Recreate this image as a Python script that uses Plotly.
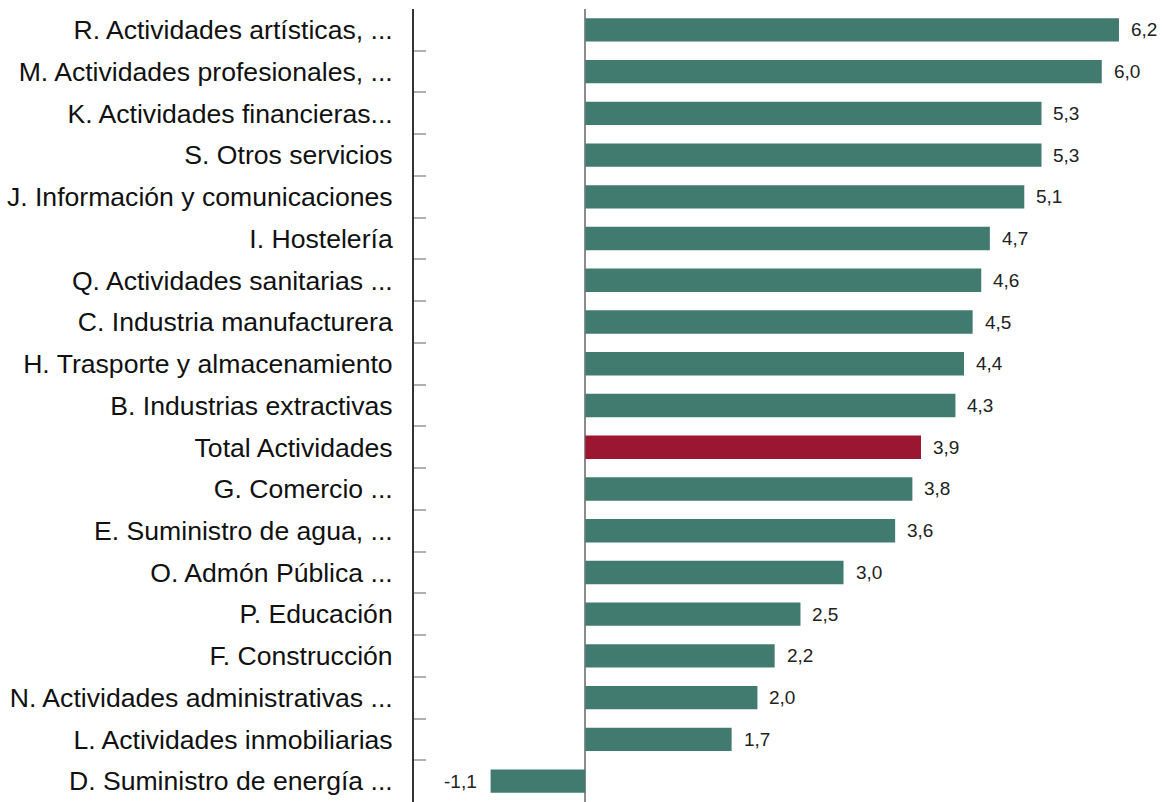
import plotly.graph_objects as go

categories = [
    "R. Actividades artísticas, ...",
    "M. Actividades profesionales, ...",
    "K. Actividades financieras...",
    "S. Otros servicios",
    "J. Información y comunicaciones",
    "I. Hostelería",
    "Q. Actividades sanitarias ...",
    "C. Industria manufacturera",
    "H. Trasporte y almacenamiento",
    "B. Industrias extractivas",
    "Total Actividades",
    "G. Comercio ...",
    "E. Suministro de agua, ...",
    "O. Admón Pública ...",
    "P. Educación",
    "F. Construcción",
    "N. Actividades administrativas ...",
    "L. Actividades inmobiliarias",
    "D. Suministro de energía ...",
]
values = [6.2, 6.0, 5.3, 5.3, 5.1, 4.7, 4.6, 4.5, 4.4, 4.3, 3.9, 3.8, 3.6, 3.0, 2.5, 2.2, 2.0, 1.7, -1.1]
highlight = "Total Actividades"

GREEN = "#417b70"
RED = "#9b1631"
colors = [RED if c == highlight else GREEN for c in categories]

def fmt(v):
    return f"{v:.1f}".replace(".", ",")

FONT = "Liberation Sans, Arial, sans-serif"

fig = go.Figure(go.Bar(
    x=values, y=categories, orientation="h",
    marker=dict(color=colors, line=dict(width=0)),
    hoverinfo="skip",
))

for c, v in zip(categories, values):
    fig.add_annotation(
        x=v, y=c, text=fmt(v), showarrow=False,
        xanchor="left" if v >= 0 else "right",
        xshift=10 if v >= 0 else -12,
        font=dict(family=FONT, size=19, color="#222"),
    )

fig.update_layout(
    width=1162, height=802,
    margin=dict(l=414, r=0, t=9, b=0),
    paper_bgcolor="white", plot_bgcolor="white",
    bargap=0.44,
    showlegend=False,
    font=dict(family=FONT, size=26.6, color="#111"),
)
fig.update_xaxes(
    range=[-1.99, 6.70], showgrid=False, showticklabels=False, ticks="",
    zeroline=True, zerolinecolor="#8c8c8c", zerolinewidth=2,
    showline=False,
)
fig.update_yaxes(
    type="category", autorange="reversed", automargin=False,
    showline=True, linecolor="#333", linewidth=2,
    ticks="inside", tickson="boundaries", ticklen=12, tickcolor="#b0b0b0", tickwidth=2,
    ticklabelstandoff=14,
    showgrid=False,
    tickfont=dict(family=FONT, size=26.6, color="#111"),
)

fig.write_html(
    "out.html",
    config={"displayModeBar": False},
    post_script="document.body.style.margin='0';document.body.style.overflow='hidden';",
)
